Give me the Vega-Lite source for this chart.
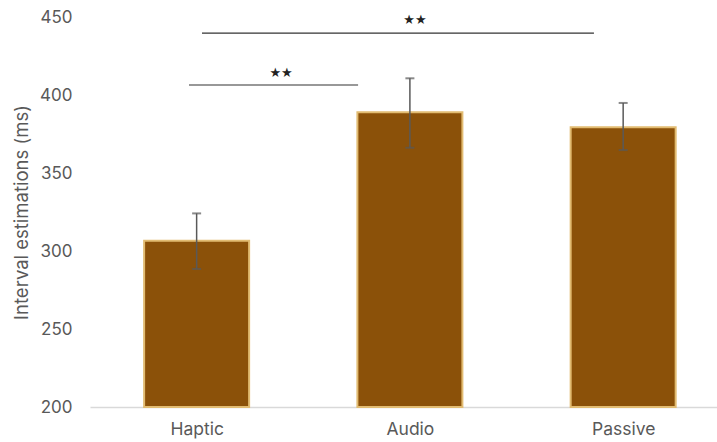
{
  "$schema": "https://vega.github.io/schema/vega-lite/v6.json",
  "width": 627,
  "height": 390,
  "autosize": {"type": "none"},
  "padding": {"left": 90, "top": 17, "right": 0, "bottom": 35},
  "background": "white",
  "config": {"view": {"stroke": null}, "font": "Inter"},
  "datasets": {
    "bars": [
      {"condition": "Haptic", "pos": 1, "mean": 306.5, "lo": 288.5, "hi": 324.1},
      {"condition": "Audio", "pos": 2, "mean": 388.9, "lo": 366.2, "hi": 410.7},
      {"condition": "Passive", "pos": 3, "mean": 379.3, "lo": 364.7, "hi": 394.9}
    ],
    "sig": [
      {"x1": 0.964, "x2": 1.757, "y": 406.4, "tx": 1.396, "ty": 414.3, "label": "★★"},
      {"x1": 1.025, "x2": 2.863, "y": 439.7, "tx": 2.024, "ty": 448.1, "label": "★★"}
    ]
  },
  "layer": [
    {
      "data": {"name": "bars"},
      "mark": {"type": "bar", "width": 105, "color": "#8B5109", "stroke": "#E2BC72", "strokeWidth": 2},
      "encoding": {
        "x": {
          "field": "pos", "type": "quantitative",
          "scale": {"domain": [0.5, 3.44], "nice": false, "zero": false, "padding": 0},
          "axis": {
            "title": null, "values": [1, 2, 3], "grid": false, "ticks": false,
            "labelExpr": "datum.value == 1 ? 'Haptic' : datum.value == 2 ? 'Audio' : 'Passive'",
            "labelFontSize": 17.5, "labelColor": "#595959", "labelPadding": 13,
            "domainColor": "#D9D9D9", "domainWidth": 1.5
          }
        },
        "y": {
          "field": "mean", "type": "quantitative",
          "scale": {"domain": [200, 450], "nice": false, "zero": false, "padding": 0},
          "axis": {
            "title": "Interval estimations (ms)", "values": [200, 250, 300, 350, 400, 450],
            "grid": false, "ticks": false, "domain": false,
            "labelFontSize": 17, "labelColor": "#595959", "labelPadding": 18,
            "titleFontSize": 18.5, "titleColor": "#595959", "titleFontWeight": "normal", "titlePadding": 8
          }
        },
        "y2": {"datum": 200}
      }
    },
    {
      "data": {"name": "bars"},
      "mark": {"type": "rule", "color": "#595959", "strokeWidth": 1.5},
      "encoding": {
        "x": {"field": "pos", "type": "quantitative"},
        "y": {"field": "lo", "type": "quantitative"},
        "y2": {"field": "hi"}
      }
    },
    {
      "data": {"name": "bars"},
      "mark": {"type": "tick", "orient": "horizontal", "color": "#595959", "size": 9, "thickness": 2},
      "encoding": {
        "x": {"field": "pos", "type": "quantitative"},
        "y": {"field": "lo", "type": "quantitative"}
      }
    },
    {
      "data": {"name": "bars"},
      "mark": {"type": "tick", "orient": "horizontal", "color": "#595959", "size": 9, "thickness": 2},
      "encoding": {
        "x": {"field": "pos", "type": "quantitative"},
        "y": {"field": "hi", "type": "quantitative"}
      }
    },
    {
      "data": {"name": "sig"},
      "mark": {"type": "rule", "color": "#333333", "strokeWidth": 1.2},
      "encoding": {
        "x": {"field": "x1", "type": "quantitative"},
        "x2": {"field": "x2"},
        "y": {"field": "y", "type": "quantitative"}
      }
    },
    {
      "data": {"name": "sig"},
      "mark": {"type": "text", "fontSize": 13, "color": "#222222", "baseline": "middle", "align": "center", "font": "DejaVu Sans"},
      "encoding": {
        "x": {"field": "tx", "type": "quantitative"},
        "y": {"field": "ty", "type": "quantitative"},
        "text": {"field": "label"}
      }
    }
  ]
}
